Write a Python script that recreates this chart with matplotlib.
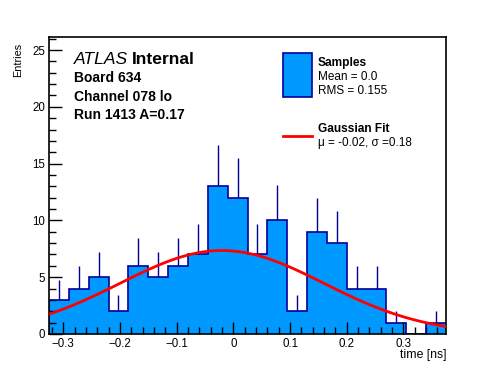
import numpy as np
from matplotlib import pyplot as plt

plt.rcParams["font.family"] = ["Liberation Sans", "DejaVu Sans"]

# histogram: 20 bins from -0.325 to 0.375 ns
x_lo = -0.325
x_hi = 0.375
n_bins = 20
counts = [3, 4, 5, 2, 6, 5, 6, 7, 13, 12, 7, 10, 2, 9, 8, 4, 4, 1, 0, 1]

# gaussian fit parameters
fit_amp = 7.35
fit_mu = -0.02
fit_sigma = 0.18

info_lines = ["Board 634", "Channel 078 lo", "Run 1413 A=0.17"]
fill_col = "#0099ff"
edge_col = "#000099"

W, H = 496, 372


def fx(px):
	return px / W


def fy(py):
	return 1 - py / H


edges = np.linspace(x_lo, x_hi, n_bins + 1)
centers = 0.5 * (edges[:-1] + edges[1:])
counts = np.array(counts, dtype=float)

fig = plt.figure(figsize=(W / 100, H / 100), dpi=100)
ax = fig.add_axes([fx(49), fy(334), fx(446) - fx(49), fy(37) - fy(334)])

ax.stairs(counts, edges, fill=True, color=fill_col, zorder=1)
ax.stairs(counts, edges, color=edge_col, lw=1.2, baseline=0, zorder=2)
mask = counts > 0
ax.vlines(centers[mask], counts[mask], counts[mask] + np.sqrt(counts[mask]),
	color=edge_col, lw=1.0, zorder=2)

xf = np.linspace(x_lo, x_hi, 100)
yf = fit_amp * np.exp(-0.5 * ((xf - fit_mu) / fit_sigma) ** 2)
ax.plot(xf, yf, color="red", lw=2, zorder=3)

ax.set_xlim(x_lo, x_hi)
ax.set_ylim(0, 26.15)
ax.set_xticks([-0.3, -0.2, -0.1, 0, 0.1, 0.2, 0.3])
ax.set_xticklabels(["\u22120.3", "\u22120.2", "\u22120.1", "0", "0.1", "0.2", "0.3"])
ax.set_xticks(np.arange(-0.32, 0.375, 0.02), minor=True)
ax.set_yticks([0, 5, 10, 15, 20, 25])
ax.set_yticks(np.arange(0, 27, 1), minor=True)
ax.tick_params(which="both", direction="in", top=False, right=False,
	labelsize=8.3, width=1)
ax.tick_params(which="major", length=9, pad=3)
ax.tick_params(which="minor", length=5)
for s in ax.spines.values():
	s.set_linewidth(1.2)

fig.text(fx(446), fy(358), "time [ns]", ha="right", va="baseline", fontsize=8.8)
fig.text(fx(18), fy(60), "Entries", rotation=90, ha="center", va="center", fontsize=7.8)

# ATLAS label
t = fig.text(fx(74), fy(63.5), "ATLAS", style="italic", fontsize=12.6, va="baseline")
fig.canvas.draw()
bb = t.get_window_extent()
fig.text(bb.x1 / W + fx(4), fy(63.5), "Internal", weight="bold", fontsize=12.6, va="baseline")
for i, s in enumerate(info_lines):
	fig.text(fx(74), fy(82 + 18.7 * i), s, weight="bold", fontsize=10, va="baseline")

# legend
leg_box = plt.Rectangle((fx(283.3), fy(96.7)), fx(311.7) - fx(283.3), fy(53.3) - fy(96.7),
	transform=fig.transFigure, facecolor=fill_col, edgecolor=edge_col, lw=1.2)
fig.add_artist(leg_box)
fig.add_artist(plt.Line2D([fx(282.7), fx(311.7)], [fy(136), fy(136)],
	transform=fig.transFigure, color="red", lw=2))
fig.text(fx(318), fy(66), "Samples", weight="bold", fontsize=8.6, va="baseline")
fig.text(fx(318), fy(80.5), "Mean = 0.0", fontsize=8.5, va="baseline")
fig.text(fx(318), fy(94), "RMS = 0.155", fontsize=8.5, va="baseline")
fig.text(fx(318), fy(132.3), "Gaussian Fit", weight="bold", fontsize=8.6, va="baseline")
fig.text(fx(318), fy(146), "\u03bc = -0.02, \u03c3 =0.18", fontsize=8.5, va="baseline")

fig.savefig("out.png", dpi=100)
